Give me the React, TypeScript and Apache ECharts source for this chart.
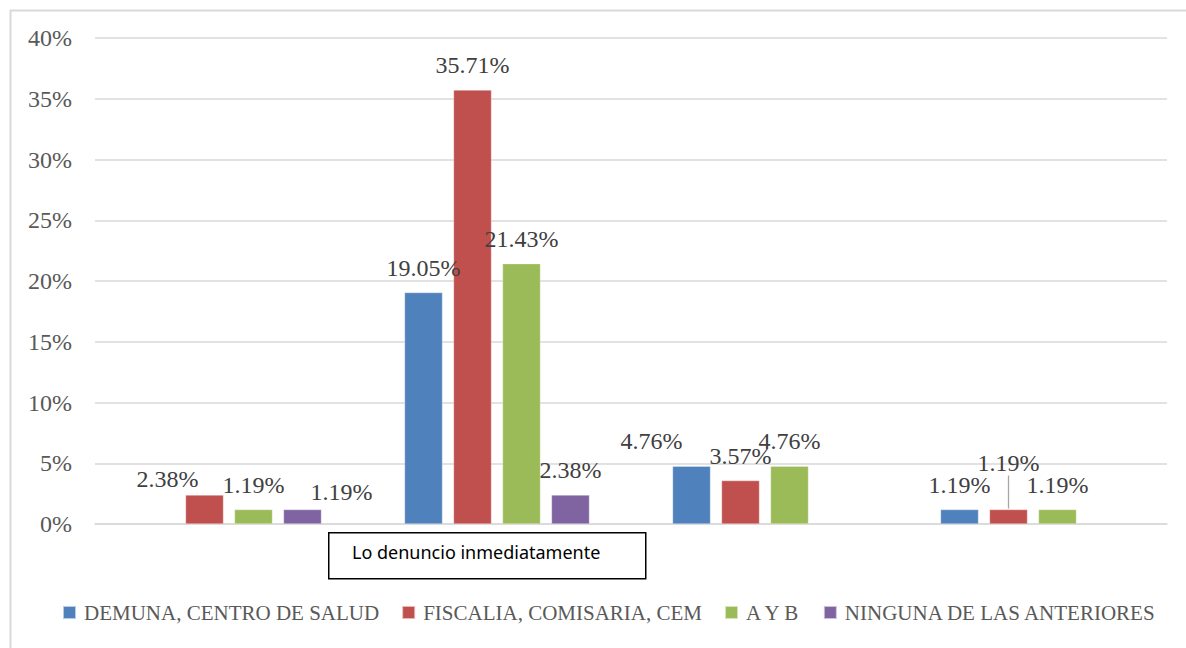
import React, { useEffect, useRef } from "react";
import * as echarts from "echarts";

const categories = ["Categoría 1", "Lo denuncio inmediatamente", "Categoría 3", "Categoría 4"];
const seriesNames = [
  "DEMUNA, CENTRO DE SALUD",
  "FISCALIA, COMISARIA, CEM",
  "A Y B",
  "NINGUNA DE LAS ANTERIORES",
];
const demuna: (number | null)[] = [null, 19.05, 4.76, 1.19];
const fiscalia: (number | null)[] = [2.38, 35.71, 3.57, 1.19];
const ayb: (number | null)[] = [1.19, 21.43, 4.76, 1.19];
const ninguna: (number | null)[] = [1.19, 2.38, null, null];
const yTicks = [0, 5, 10, 15, 20, 25, 30, 35, 40];
const boxLabel = "Lo denuncio inmediatamente";

const colors = ["#4f81bd", "#c0504d", "#9bbb59", "#8064a2"];
const serif = "'Liberation Serif', 'DejaVu Serif', serif";

// label adjustments [seriesIndex-categoryIndex] -> [dx, dy]
const labelShift: Record<string, [number, number]> = {
  "1-0": [-37, 9],
  "3-0": [39, 7],
  "0-2": [-40, 0],
};
const leaderKey = "1-3";

export default function App() {
  const ref = useRef<HTMLDivElement>(null);
  useEffect(() => {
    if (!ref.current) return;
    const chart = echarts.init(ref.current, null, { renderer: "svg" });
    const all = [demuna, fiscalia, ayb, ninguna];
    const fmt = (v: any) => Number(v).toFixed(2) + "%";
    const series = all.map((vals, si) => ({
      name: seriesNames[si],
      type: "bar",
      barGap: "29%",
      barCategoryGap: "31%",
      itemStyle: { color: colors[si], borderColor: "rgba(255,255,255,0.6)", borderWidth: 0.5 },
      label: {
        show: true,
        position: "top",
        distance: 13,
        color: "#404040",
        fontFamily: serif,
        fontSize: 24,
        formatter: (p: any) => (p.value == null ? "" : fmt(p.value)),
      },
      data: vals.map((v, ci) => {
        const key = `${si}-${ci}`;
        const sh = labelShift[key];
        const item: any = { value: v };
        if (sh) item.label = { offset: sh };
        if (key === leaderKey) {
          item.label = {
            distance: 1,
            formatter: (p: any) => `{v|${fmt(p.value)}}\n{ln|}`,
            rich: {
              v: { color: "#404040", fontFamily: serif, fontSize: 24, lineHeight: 26 },
              ln: { width: 1.3, height: 33, backgroundColor: "#a6a6a6" },
            },
          };
        }
        return item;
      }),
    }));
    chart.setOption({
      animation: false,
      color: colors,
      grid: { left: 95, top: 38, width: 1072, height: 486, containLabel: false },
      xAxis: {
        type: "category",
        data: categories,
        axisLine: { show: true, lineStyle: { color: "#d9d9d9", width: 1.5 } },
        axisTick: { show: false },
        axisLabel: { show: false },
      },
      yAxis: {
        type: "value",
        min: yTicks[0],
        max: yTicks[yTicks.length - 1],
        interval: 5,
        axisLine: { show: false },
        axisTick: { show: false },
        splitLine: { lineStyle: { color: "#d9d9d9", width: 1.5 } },
        axisLabel: {
          formatter: "{value}%",
          color: "#595959",
          fontFamily: serif,
          fontSize: 24,
          margin: 23,
        },
      },
      legend: {
        left: 62,
        top: 602,
        width: 1124,
        padding: 0,
        icon: "rect",
        itemWidth: 13,
        itemHeight: 13,
        itemGap: 22,
        textStyle: { color: "#595959", fontFamily: serif, fontSize: 21, padding: [0, 0, 0, 3] },
        data: seriesNames,
      },
      graphic: [
        {
          type: "rect",
          left: 8,
          top: 8,
          shape: { width: 1200, height: 700 },
          style: { fill: "none", stroke: "#d9d9d9", lineWidth: 2 },
          silent: true,
          z: -10,
        },
        {
          type: "rect",
          left: 328,
          top: 532,
          shape: { width: 317, height: 46 },
          style: { fill: "#ffffff", stroke: "#000000", lineWidth: 1.5 },
          z: 10,
        },
        {
          type: "text",
          left: 352,
          top: 543,
          style: {
            text: boxLabel,
            fill: "#000000",
            font: "18px 'Noto Sans', 'Open Sans', sans-serif",
          },
          z: 11,
        },
      ],
      series,
    });
    return () => chart.dispose();
  }, []);
  return (
    <div
      ref={ref}
      style={{ position: "absolute", left: 0, top: 0, width: 1186, height: 648, background: "#fff" }}
    />
  );
}
